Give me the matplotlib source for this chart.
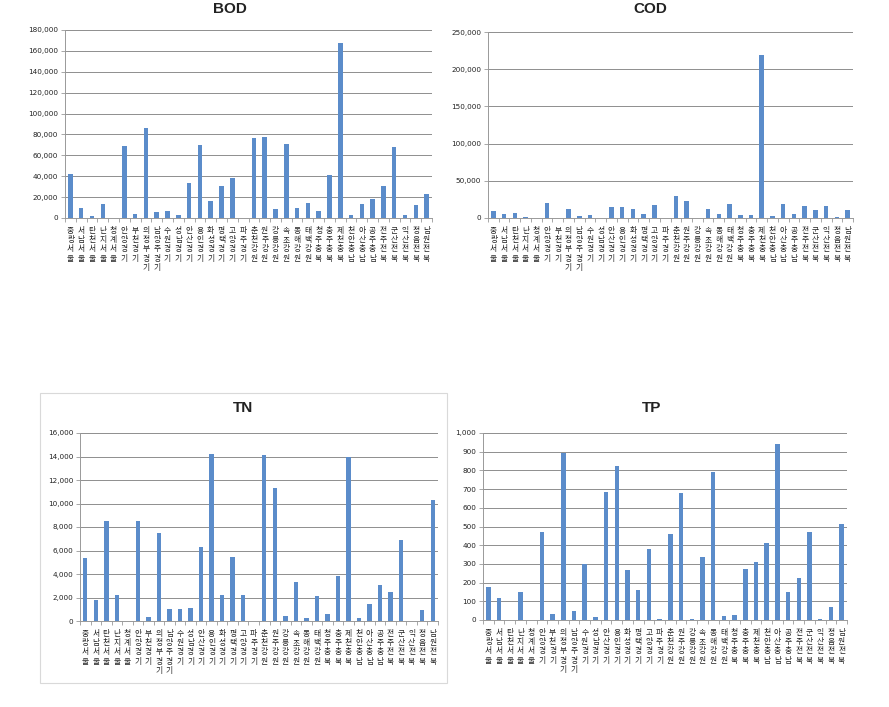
import matplotlib
matplotlib.use("Agg")
import matplotlib.pyplot as plt
import numpy as np
from matplotlib.patches import Rectangle

plt.rcParams['font.family'] = ['Noto Sans CJK KR', 'DejaVu Sans']

# ---- data ----
places = ["중랑", "서남", "탄천", "난지", "청계",
          "안양", "부천", "의정부", "남양주", "수원", "성남", "안산", "용인", "화성", "평택", "고양", "파주",
          "춘천", "원주", "강릉", "속초", "동해", "태백",
          "청주", "충주", "제천",
          "천안", "아산", "공주",
          "전주", "군산", "익산", "정읍", "남원"]
provinces = ["서울"] * 5 + ["경기"] * 12 + ["강원"] * 6 + ["충북"] * 3 + ["충남"] * 3 + ["전북"] * 5
categories = [p + q for p, q in zip(places, provinces)]

bod = [42000, 9500, 2200, 13400, 0, 69400, 4100, 86600, 5700, 7000, 3200, 33100, 70100, 16600,
       30900, 38500, 0, 76800, 78000, 8900, 71000, 9600, 14000, 7000, 41400, 167300, 3200, 13400,
       18500, 30900, 68200, 3200, 12100, 22900]
cod = [9800, 5800, 7100, 1800, 0, 20500, 500, 12500, 3100, 4000, 0, 15200, 15200, 12500,
       5800, 17900, 0, 29900, 22300, 0, 12500, 5800, 18800, 4500, 4500, 218800, 2700, 18800,
       5800, 16500, 11200, 15600, 1800, 11200]
tn = [5400, 1820, 8500, 2200, 0, 8480, 310, 7500, 1050, 1050, 1100, 6270, 14200, 2250,
      5440, 2250, 0, 14100, 11300, 460, 3360, 280, 2100, 630, 3800, 13960, 280, 1480,
      3100, 2500, 6920, 0, 970, 10280]
tp = [178, 116, 0, 152, 0, 471, 30, 893, 46, 300, 14, 686, 825, 266,
      159, 379, 5, 459, 679, 5, 339, 791, 20, 27, 271, 312, 411, 941,
      148, 223, 468, 5, 68, 512]

titles = ["BOD", "COD", "TN", "TP"]
series = [bod, cod, tn, tp]
ymaxes = [180000, 250000, 16000, 1000]
ysteps = [20000, 50000, 2000, 100]

W, H = 889, 707
# axes boxes in pixels: left, right, top, bottom
boxes = [(65, 432, 30, 218), (488, 853, 32, 218), (80, 438, 433, 621), (483, 847, 433, 620)]
title_pos = [(230, 2), (650, 2), (243, 401), (652, 401)]

fig = plt.figure(figsize=(W / 100, H / 100), dpi=100)

# frame around TN chart
fig.patches.append(Rectangle((40 / W, 1 - 683 / H), (447 - 40) / W, (683 - 393) / H,
                             transform=fig.transFigure, fill=False, edgecolor='#d9d9d9', lw=0.8))

bar_color = '#5B8CCA'
grid_color = '#8e8e8e'
vlabels = ["\n".join(list(c)) for c in categories]
x = np.arange(len(categories))

for title, vals, ymax, ystep, box, tpos in zip(titles, series, ymaxes, ysteps, boxes, title_pos):
    l, r, t, b = box
    ax = fig.add_axes([l / W, 1 - b / H, (r - l) / W, (b - t) / H])
    ax.bar(x, vals, width=0.42, color=bar_color, zorder=3)
    ax.set_xlim(-0.5, len(categories) - 0.5)
    ax.set_ylim(0, ymax)
    yt = np.arange(0, ymax + ystep / 2, ystep)
    ax.set_yticks(yt)
    ax.set_yticklabels([f"{int(v):,}" for v in yt], fontsize=5.2, family='DejaVu Sans', color='#222222')
    ax.yaxis.grid(True, color=grid_color, lw=0.7, zorder=0)
    ax.set_xticks(x)
    ax.set_xticklabels(vlabels, fontsize=5.6, linespacing=1.2, va='top', color='#222222')
    ax.tick_params(axis='x', length=0, pad=6.5)
    ax.set_xticks(np.arange(-0.5, len(categories)), minor=True)
    ax.tick_params(axis='x', which='minor', length=3, color='#999999', width=0.6)
    ax.tick_params(axis='y', length=3, color='#999999', width=0.6, pad=2)
    for s in ['top', 'right']:
        ax.spines[s].set_visible(False)
    for s in ['left', 'bottom']:
        ax.spines[s].set_color('#999999')
        ax.spines[s].set_linewidth(0.7)
    fig.text(tpos[0] / W, 1 - tpos[1] / H, title, ha='center', va='top',
             fontsize=11, fontweight='bold', family='Liberation Sans', color='#222222')

fig.savefig("out.png", dpi=100)
